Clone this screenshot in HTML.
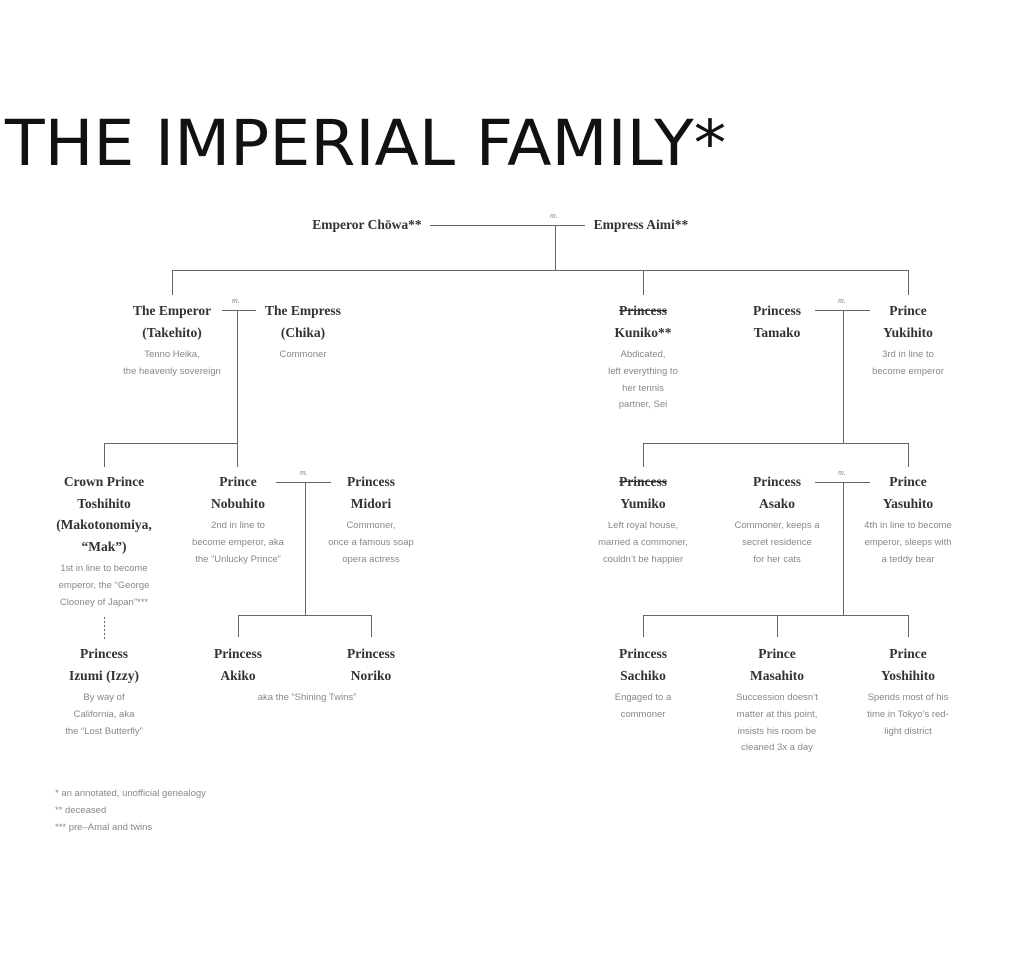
<!DOCTYPE html>
<html><head><meta charset="utf-8"><style>
body{margin:0;width:1024px;height:964px;background:#fff;position:relative;overflow:hidden}
.t{position:absolute;left:5px;top:112px;font-family:"DejaVu Sans",sans-serif;font-size:63px;line-height:1;color:#111;white-space:nowrap;transform-origin:0 0;transform:scaleX(1.03)}
.n{position:absolute;width:170px;text-align:center}
.nm{font-family:"Liberation Serif",serif;font-weight:bold;font-size:13.5px;line-height:21.5px;color:#333}
.d{font-family:"Liberation Sans",sans-serif;font-size:9.5px;line-height:16.8px;color:#888;margin-top:4px}
.m{position:absolute;font-family:"Liberation Serif",serif;font-style:italic;font-size:8px;color:#888}
.f{position:absolute;left:55px;font-family:"Liberation Sans",sans-serif;font-size:9.5px;color:#888;line-height:17px}
s{text-decoration:line-through}
</style></head><body>
<div class="t">THE IMPERIAL FAMILY*</div>
<svg width="1024" height="964" style="position:absolute;left:0;top:0" stroke="#666" stroke-width="1" fill="none">
<path d="M430 225.5H585M555.5 225V270M172 270.5H909M172.5 270V295M643.5 270V295M908.5 270V295"/>
<path d="M222 310.5H256M237.5 310V443M104 443.5H238M104.5 443V467M237.5 443V467"/>
<path d="M815 310.5H870M843.5 310V443M643 443.5H909M643.5 443V467M908.5 443V467"/>
<path d="M276 482.5H331M305.5 482V615M238 615.5H372M238.5 615V637M371.5 615V637"/>
<path d="M815 482.5H870M843.5 482V615M643 615.5H909M643.5 615V637M777.5 615V637M908.5 615V637"/>
<path d="M104.5 617V639" stroke-dasharray="2,2"/>
</svg>
<div class="m" style="left:550px;top:211px">m.</div>
<div class="m" style="left:232px;top:296px">m.</div>
<div class="m" style="left:838px;top:296px">m.</div>
<div class="m" style="left:300px;top:468px">m.</div>
<div class="m" style="left:838px;top:468px">m.</div>

<div class="n" style="left:282px;top:214px"><div class="nm">Emperor Chōwa**</div></div>
<div class="n" style="left:556px;top:214px"><div class="nm">Empress Aimi**</div></div>

<div class="n" style="left:87px;top:300px"><div class="nm">The Emperor<br>(Takehito)</div><div class="d">Tenno Heika,<br>the heavenly sovereign</div></div>
<div class="n" style="left:218px;top:300px"><div class="nm">The Empress<br>(Chika)</div><div class="d">Commoner</div></div>
<div class="n" style="left:558px;top:300px"><div class="nm"><s>Princess</s><br>Kuniko**</div><div class="d">Abdicated,<br>left everything to<br>her tennis<br>partner, Sei</div></div>
<div class="n" style="left:692px;top:300px"><div class="nm">Princess<br>Tamako</div></div>
<div class="n" style="left:823px;top:300px"><div class="nm">Prince<br>Yukihito</div><div class="d">3rd in line to<br>become emperor</div></div>

<div class="n" style="left:19px;top:471px"><div class="nm">Crown Prince<br>Toshihito<br>(Makotonomiya,<br>“Mak”)</div><div class="d">1st in line to become<br>emperor, the “George<br>Clooney of Japan”***</div></div>
<div class="n" style="left:153px;top:471px"><div class="nm">Prince<br>Nobuhito</div><div class="d">2nd in line to<br>become emperor, aka<br>the “Unlucky Prince”</div></div>
<div class="n" style="left:286px;top:471px"><div class="nm">Princess<br>Midori</div><div class="d">Commoner,<br>once a famous soap<br>opera actress</div></div>
<div class="n" style="left:558px;top:471px"><div class="nm"><s>Princess</s><br>Yumiko</div><div class="d">Left royal house,<br>married a commoner,<br>couldn’t be happier</div></div>
<div class="n" style="left:692px;top:471px"><div class="nm">Princess<br>Asako</div><div class="d">Commoner, keeps a<br>secret residence<br>for her cats</div></div>
<div class="n" style="left:823px;top:471px"><div class="nm">Prince<br>Yasuhito</div><div class="d">4th in line to become<br>emperor, sleeps with<br>a teddy bear</div></div>

<div class="n" style="left:19px;top:643px"><div class="nm">Princess<br>Izumi (Izzy)</div><div class="d">By way of<br>California, aka<br>the “Lost Butterfly”</div></div>
<div class="n" style="left:153px;top:643px"><div class="nm">Princess<br>Akiko</div></div>
<div class="n" style="left:286px;top:643px"><div class="nm">Princess<br>Noriko</div></div>
<div class="n" style="left:222px;top:686px;width:170px"><div class="d">aka the “Shining Twins”</div></div>
<div class="n" style="left:558px;top:643px"><div class="nm">Princess<br>Sachiko</div><div class="d">Engaged to a<br>commoner</div></div>
<div class="n" style="left:692px;top:643px"><div class="nm">Prince<br>Masahito</div><div class="d">Succession doesn’t<br>matter at this point,<br>insists his room be<br>cleaned 3x a day</div></div>
<div class="n" style="left:823px;top:643px"><div class="nm">Prince<br>Yoshihito</div><div class="d">Spends most of his<br>time in Tokyo’s red-<br>light district</div></div>

<div class="f" style="top:785px">* an annotated, unofficial genealogy<br>** deceased<br>*** pre–Amal and twins</div>
</body></html>
